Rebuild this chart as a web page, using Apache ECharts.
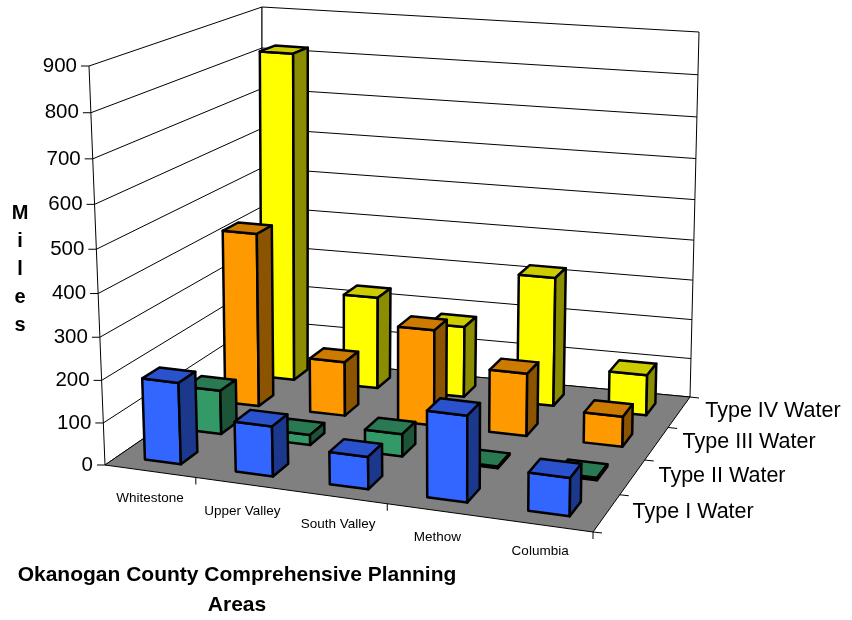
<!DOCTYPE html>
<html>
<head>
<meta charset="utf-8">
<script src="https://cdn.jsdelivr.net/npm/echarts@6/dist/echarts.min.js"></script>
<style>
  html, body { margin: 0; padding: 0; background: #ffffff; }
  #chart { width: 852px; height: 620px; }
</style>
</head>
<body>
<div id="chart"></div>
<script>
// Planning areas along the front axis
const categories = ['Whitestone', 'Upper Valley', 'South Valley', 'Methow', 'Columbia'];
// Water types, front row to back row
const seriesNames = ['Type I Water', 'Type II Water', 'Type III Water', 'Type IV Water'];
// Miles per water type
const typeI = [193, 118, 76, 200, 88];
const typeII = [107, 25, 54, 4, 6];
const typeIII = [430, 135, 237, 154, 74];
const typeIV = [820, 234, 180, 324, 102];
// Value axis ticks
const valueTicks = [0, 100, 200, 300, 400, 500, 600, 700, 800, 900];
const valueMax = 900;

const seriesValues = [typeI, typeII, typeIII, typeIV];
const seriesColors = ['#3366FF', '#339966', '#FF9900', '#FFFF00'];

// ---- 3D view: floor corners and perspective parameters ----
const VIEW = {
  fl: [105, 465], fr: [593, 532], br: [690, 397], bl: [262, 357],
  persX: -0.0854,   // foreshortening along the category direction
  persZ: 0.143,     // foreshortening along the depth direction
  persY: -0.058,    // foreshortening along the value direction
  span: { fl: 399, fr: 420, bl: 350, br: 365 },   // wall height in px
  tilt: { fl: -16, fr: 6, bl: 0, br: 9 }          // top x-shift in px
};
const FONT = "'Liberation Sans', Arial, sans-serif";

function warp(s, k) { return (1 + k) * s / (1 + k * s); }
function bilerp(c, a, b) {
  return c.fl * (1 - a) * (1 - b) + c.fr * a * (1 - b) + c.bl * (1 - a) * b + c.br * a * b;
}
// u: across categories (0..1), v: depth front->back (0..1), t: value fraction (0..1)
function project(u, v, t) {
  const a = warp(u, VIEW.persX), b = warp(v, VIEW.persZ);
  const lx = VIEW.fl[0] + (VIEW.bl[0] - VIEW.fl[0]) * b;
  const ly = VIEW.fl[1] + (VIEW.bl[1] - VIEW.fl[1]) * b;
  const rx = VIEW.fr[0] + (VIEW.br[0] - VIEW.fr[0]) * b;
  const ry = VIEW.fr[1] + (VIEW.br[1] - VIEW.fr[1]) * b;
  const x = lx + (rx - lx) * a, y = ly + (ry - ly) * a;
  const k = warp(t, VIEW.persY);
  return [x + bilerp(VIEW.tilt, a, b) * k, y - bilerp(VIEW.span, a, b) * k];
}

function shade(hex, f) {
  const n = parseInt(hex.slice(1), 16);
  const r = Math.round(((n >> 16) & 255) * f), g = Math.round(((n >> 8) & 255) * f), bl = Math.round((n & 255) * f);
  return 'rgb(' + r + ',' + g + ',' + bl + ')';
}

const ROWS = seriesNames.length;
const BAR_FRAC = 0.4;   // bar size relative to its cell (gap 150%)

// Walls, floor, gridlines, axis ticks and labels
function renderFrame(params, api) {
  const cs = params.coordSys;
  const kids = [];
  const poly = (pts, fill, lw) => ({ type: 'polygon', shape: { points: pts }, style: { fill: fill, stroke: '#000', lineWidth: lw } });
  const line = (p, q, lw) => ({ type: 'line', shape: { x1: p[0], y1: p[1], x2: q[0], y2: q[1] }, style: { stroke: '#000', lineWidth: lw || 1 } });
  const text = (x, y, s, size, align, vAlign, weight, lh) => ({
    type: 'text', x: x, y: y,
    style: { text: s, fill: '#000', fontSize: size, fontFamily: FONT, fontWeight: weight || 'normal',
             align: align, verticalAlign: vAlign, lineHeight: lh }
  });

  // walls
  kids.push(poly([project(0, 0, 0), project(0, 1, 0), project(0, 1, 1), project(0, 0, 1)], '#fff', 1));
  kids.push(poly([project(0, 1, 0), project(1, 1, 0), project(1, 1, 1), project(0, 1, 1)], '#fff', 1));
  // gridlines
  valueTicks.forEach(val => {
    const t = (cs.y + cs.height - api.coord([0, val])[1]) / cs.height;
    if (t > 0 && t < 1) {
      kids.push({ type: 'polyline', shape: { points: [project(0, 0, t), project(0, 1, t), project(1, 1, t)] },
                  style: { stroke: '#000', lineWidth: 1, fill: null } });
    }
  });
  // floor
  kids.push(poly([project(0, 0, 0), project(1, 0, 0), project(1, 1, 0), project(0, 1, 0)], '#808080', 1));

  // value axis ticks and labels
  valueTicks.forEach(val => {
    const t = (cs.y + cs.height - api.coord([0, val])[1]) / cs.height;
    const p = project(0, 0, t);
    kids.push(line([p[0] - 8, p[1]], p, 1));
    kids.push(text(p[0] - 12, p[1], String(val), 20.5, 'right', 'middle'));
  });

  // category ticks (every second boundary) and labels
  const band = api.size([1, 0])[0] / cs.width;
  for (let i = 1; i <= categories.length; i += 2) {
    const p = project(i * band, 0, 0);
    kids.push(line(p, [p[0], p[1] + 7], 1));
  }
  categories.forEach((name, i) => {
    const u = (api.coord([i, 0])[0] - cs.x) / cs.width;
    const p = project(u, 0, 0);
    kids.push(text(p[0], p[1] + 27, name, 13.5, 'center', 'middle'));
  });

  // depth axis ticks and series labels
  for (let r = 0; r <= ROWS; r++) {
    const p = project(1, r / ROWS, 0);
    kids.push(line(p, [p[0] + 9, p[1] + 1], 1));
  }
  seriesNames.forEach((name, r) => {
    const p = project(1, (r + 0.5) / ROWS, 0);
    kids.push(text(p[0] + 26, p[1] - 1, name, 21.5, 'left', 'middle'));
  });

  // axis titles
  kids.push(text(20, 269, 'M\ni\nl\ne\ns', 20, 'center', 'middle', 'bold', 28));
  kids.push(text(237, 590, 'Okanogan County Comprehensive Planning\nAreas', 21, 'center', 'middle', 'bold', 30));

  return { type: 'group', children: kids };
}

// One 3D column: front, top and right faces
function barRenderer(row, color) {
  const top = shade(color, 0.8), side = shade(color, 0.55);
  return function (params, api) {
    const cs = params.coordSys;
    const c = api.coord([api.value(0), api.value(1)]);
    const base = api.coord([api.value(0), 0]);
    const band = api.size([1, 0])[0] / cs.width;
    const uc = (c[0] - cs.x) / cs.width;
    const t = (base[1] - c[1]) / cs.height;
    const u0 = uc - band * BAR_FRAC / 2, u1 = uc + band * BAR_FRAC / 2;
    const depth = 1 / ROWS;
    const v0 = row * depth + depth * (1 - BAR_FRAC) / 2, v1 = v0 + depth * BAR_FRAC;
    const st = (fill) => ({ fill: fill, stroke: '#000', lineWidth: 2.5, lineJoin: 'round' });
    return {
      type: 'group',
      children: [
        { type: 'polygon', shape: { points: [project(u0, v0, 0), project(u1, v0, 0), project(u1, v0, t), project(u0, v0, t)] }, style: st(color) },
        { type: 'polygon', shape: { points: [project(u0, v0, t), project(u1, v0, t), project(u1, v1, t), project(u0, v1, t)] }, style: st(top) },
        { type: 'polygon', shape: { points: [project(u1, v0, 0), project(u1, v1, 0), project(u1, v1, t), project(u1, v0, t)] }, style: st(side) }
      ]
    };
  };
}

const chart = echarts.init(document.getElementById('chart'), null, { renderer: 'canvas' });

const series = [{
  type: 'custom', name: 'frame', renderItem: renderFrame, clip: false, silent: true,
  data: [[0, 0]], z: 1
}];
// back rows first so nearer columns overlap farther ones
for (let r = ROWS - 1; r >= 0; r--) {
  series.push({
    type: 'custom', name: seriesNames[r], renderItem: barRenderer(r, seriesColors[r]), clip: false,
    data: seriesValues[r].map((v, i) => [i, v]), z: 2
  });
}

chart.setOption({
  animation: false,
  backgroundColor: '#ffffff',
  grid: { left: 100, right: 100, top: 100, bottom: 100, show: false },
  xAxis: { type: 'category', data: categories, show: false },
  yAxis: { type: 'value', min: 0, max: valueMax, interval: 100, show: false },
  series: series
});
</script>
</body>
</html>
